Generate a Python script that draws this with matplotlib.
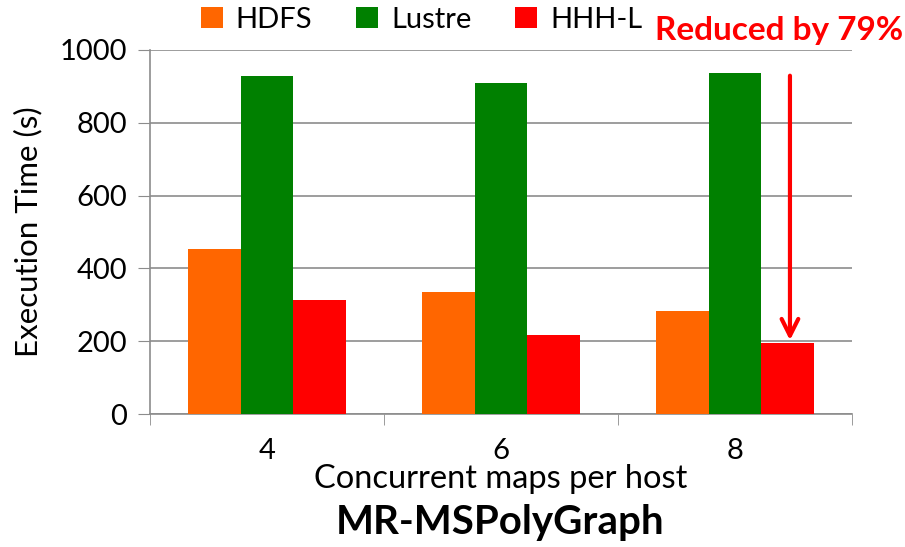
import numpy as np
import matplotlib.pyplot as plt

plt.rcParams['font.family'] = ['Lato', 'DejaVu Sans']

maps = ['4', '6', '8']
hdfs = [453, 335, 283]
lustre = [928, 909, 937]
hhhl = [313, 217, 195]

fig = plt.figure(figsize=(9.05, 5.47), dpi=100)
ax = fig.add_axes([0.1657, 0.2431, 0.7757, 0.6655])

x = np.arange(len(maps))
w = 0.225
ax.bar(x - w, hdfs, w, color='#ff6600', label='HDFS', zorder=3)
ax.bar(x, lustre, w, color='#008000', label='Lustre', zorder=3)
ax.bar(x + w, hhhl, w, color='#ff0000', label='HHH-L', zorder=3)

ax.set_xlim(-0.5, 2.5)
ax.set_ylim(0, 1000)
ax.set_yticks(range(0, 1001, 200))
ax.yaxis.grid(True, color='#8c8c8c', linewidth=1.2, zorder=0)

ax.set_xticks(x)
ax.set_xticklabels(maps, fontsize=21)
ax.set_xticks([-0.5, 0.5, 1.5, 2.5], minor=True)
ax.tick_params(axis='x', which='major', length=0, pad=17)
ax.tick_params(axis='x', which='minor', length=8, color='#8c8c8c')
ax.tick_params(axis='y', labelsize=21, length=8.5, pad=8, color='#8c8c8c',
               direction='out')

for s in ['top', 'right']:
    ax.spines[s].set_visible(False)
for s in ['left', 'bottom']:
    ax.spines[s].set_color('#8c8c8c')
    ax.spines[s].set_linewidth(1.2)

ax.set_ylabel('Execution Time (s)', fontsize=22.5, labelpad=12)
ax.set_xlabel('Concurrent maps per host', fontsize=23.5, labelpad=0)
fig.text(0.553, 0.045, 'MR-MSPolyGraph', fontsize=29, fontweight='bold',
         ha='center', va='center')

ax.legend(loc='lower left', bbox_to_anchor=(0.035, 0.975), ncol=3, frameon=False,
          fontsize=21, handlelength=0.75, handleheight=0.75, handletextpad=0.45,
          columnspacing=1.5)

# reduction arrow on the last group
ax.annotate('', xy=(2.235, hhhl[2]), xytext=(2.235, lustre[2]),
            arrowprops=dict(arrowstyle='->', color='red', lw=3,
                            mutation_scale=30), zorder=5)
fig.text(0.998, 0.945, 'Reduced by 79%', color='red', fontsize=24,
         fontweight='bold', ha='right', va='center')

fig.savefig('out.png', dpi=100)
